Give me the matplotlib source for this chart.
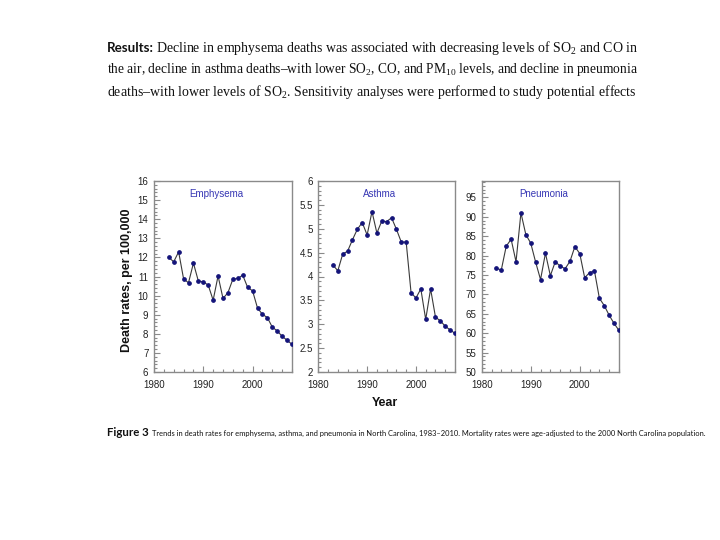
import matplotlib
matplotlib.use("Agg")
import matplotlib.pyplot as plt
from matplotlib.ticker import MultipleLocator

plt.rcParams['mathtext.fontset'] = 'custom'
plt.rcParams['mathtext.rm'] = 'Liberation Serif'
plt.rcParams['mathtext.it'] = 'Liberation Serif:italic'
plt.rcParams['mathtext.bf'] = 'Liberation Serif:bold'

years = list(range(1983, 2009))
emphysema = [12.0, 11.77, 12.29, 10.88, 10.67, 11.70, 10.76, 10.72, 10.55, 9.76,
             11.03, 9.85, 10.15, 10.86, 10.90, 11.07, 10.43, 10.25, 9.35, 9.02,
             8.85, 8.35, 8.15, 7.87, 7.66, 7.45]
asthma = [4.24, 4.12, 4.47, 4.53, 4.77, 4.99, 5.13, 4.87, 5.36, 4.91,
          5.16, 5.15, 5.23, 4.99, 4.72, 4.72, 3.66, 3.55, 3.74, 3.10,
          3.74, 3.15, 3.07, 2.96, 2.88, 2.81]
pneumonia = [76.7, 76.3, 82.4, 84.2, 78.4, 91.0, 85.4, 83.2, 78.3, 73.8,
             80.6, 74.8, 78.4, 77.3, 76.6, 78.5, 82.3, 80.5, 74.3, 75.6,
             76.0, 69.0, 67.1, 64.6, 62.5, 60.7]
titles = ["Emphysema", "Asthma", "Pneumonia"]
ylims = [(6, 16), (2, 6), (50, 99.2)]
ymajor = [1, 0.5, 5]
yminor = [0.2, 0.1, 1]
xticks = [1980, 1990, 2000]

fig = plt.figure(figsize=(7.2, 5.4), dpi=100)
W, H = 720, 540

def fx(px):
    return px / W

def fy(py):
    return 1 - py / H

panels = [(154, 292), (318.3, 455), (481.7, 619)]
top, bottom = 181, 372
series = [emphysema, asthma, pneumonia]
spine_col = '#8a8a8a'
for i, ((l, r), vals) in enumerate(zip(panels, series)):
    ax = fig.add_axes([fx(l), fy(bottom), (r - l) / W, (bottom - top) / H])
    ax.plot(years, vals, '-', color='#3a3a3a', lw=0.8, zorder=2)
    ax.plot(years, vals, 'o', color='#14147a', ms=2.4, mec='#14147a', zorder=3)
    ax.set_xlim(1980, 2008)
    ax.set_xticks(xticks)
    ax.xaxis.set_minor_locator(MultipleLocator(2))
    ax.yaxis.set_major_locator(MultipleLocator(ymajor[i]))
    ax.yaxis.set_minor_locator(MultipleLocator(yminor[i]))
    if i == 1:
        ax.set_yticks([2, 2.5, 3, 3.5, 4, 4.5, 5, 5.5, 6])
        ax.set_yticklabels(['2', '2.5', '3', '3.5', '4', '4.5', '5', '5.5', '6'])
    ax.set_ylim(*ylims[i])
    for s in ax.spines.values():
        s.set_color(spine_col)
        s.set_linewidth(1.0)
    ax.tick_params(which='both', direction='in', color=spine_col, width=0.8,
                   labelsize=7, labelcolor='#222222')
    ax.tick_params(axis='y', pad=4)
    ax.tick_params(axis='x', pad=5.5)
    ax.tick_params(which='major', length=4.5)
    ax.tick_params(which='minor', length=2.5)
    for lab in ax.get_xticklabels() + ax.get_yticklabels():
        lab.set_fontfamily('Liberation Sans')
    ax.text(0.45, 0.93, titles[i], transform=ax.transAxes, ha='center', va='center',
            fontsize=7, color='#3636b4', fontfamily='Liberation Sans')

fig.text(fx(127), fy(280), 'Death rates, per 100,000', rotation=90, ha='center',
         va='center', fontsize=9, fontweight='bold', fontfamily='Liberation Sans',
         color='#111111')
fig.text(fx(385), fy(403), 'Year', ha='center', va='center', fontsize=9,
         fontweight='bold', fontfamily='Liberation Sans', color='#111111')

renderer = fig.canvas.get_renderer()

def fit(t, target_px):
    fs = t.get_fontsize()
    for _ in range(3):
        w = t.get_window_extent(renderer=renderer).width
        fs = fs * target_px / w
        t.set_fontsize(fs)
    return t

res = fig.text(fx(107), fy(48), 'Results:', ha='left', va='center', fontsize=10.5,
               fontweight='bold', fontfamily='Lato', color='#111111')
fit(res, 47)
line1 = fig.text(fx(156), fy(48),
                 'Decline in emphysema deaths was associated with decreasing levels of SO$_2$ and CO in',
                 ha='left', va='center', fontsize=10.5, fontfamily='Liberation Serif', color='#111111')
fit(line1, 481)
line2 = fig.text(fx(107), fy(70),
                 'the air, decline in asthma deaths\u2013with lower SO$_2$, CO, and PM$_{10}$ levels, and decline in pneumonia',
                 ha='left', va='center', fontsize=10.5, fontfamily='Liberation Serif', color='#111111')
fit(line2, 530)
line3 = fig.text(fx(107), fy(92),
                 'deaths\u2013with lower levels of SO$_2$. Sensitivity analyses were performed to study potential effects',
                 ha='left', va='center', fontsize=10.5, fontfamily='Liberation Serif', color='#111111')
fit(line3, 530)

cap1 = fig.text(fx(107), fy(433), 'Figure 3', ha='left', va='center', fontsize=6,
                fontweight='bold', fontfamily='Lato', color='#111111')
fit(cap1, 42)
cap2 = fig.text(fx(152.5), fy(433),
                'Trends in death rates for emphysema, asthma, and pneumonia in North Carolina, 1983\u20132010. Mortality rates were age-adjusted to the 2000 North Carolina population.',
                ha='left', va='center', fontsize=6, fontfamily='Lato', color='#111111')
fit(cap2, 553)

fig.savefig('out.png', dpi=100)
